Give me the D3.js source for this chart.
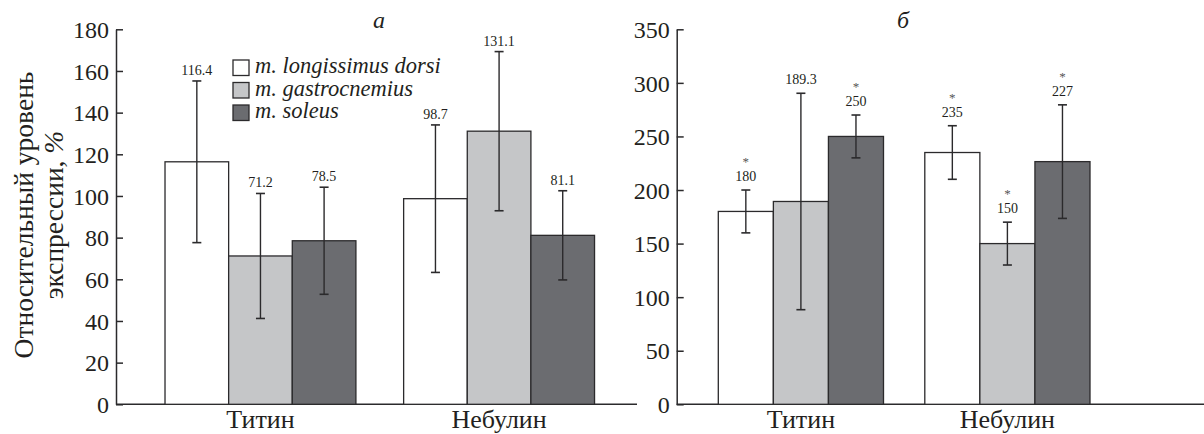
<!DOCTYPE html>
<html><head><meta charset="utf-8">
<script src="https://cdn.jsdelivr.net/npm/d3@7"></script>
<style>body{margin:0;background:#fff}svg{display:block}text{font-family:"Liberation Serif","Times New Roman",serif;fill:#231f20}</style>
</head><body><svg id="c" width="1204" height="434"></svg>
<script>
const categories = ["Титин", "Небулин"];
const seriesNames = ["m. longissimus dorsi", "m. gastrocnemius", "m. soleus"];
const seriesColors = ["#ffffff", "#c5c6c8", "#6b6c70"];
// panel a
const aValues = [[116.4, 71.2, 78.5], [98.7, 131.1, 81.1]];
const aErrors = [[38.8, 30.0, 25.7], [35.4, 38.2, 21.4]];
const aLabels = [["116.4", "71.2", "78.5"], ["98.7", "131.1", "81.1"]];
const aStars = [[false, false, false], [false, false, false]];
const aTicks = [0, 20, 40, 60, 80, 100, 120, 140, 160, 180];
// panel b
const bValues = [[180, 189.3, 250], [235, 150, 226.5]];
const bErrors = [[20, 101, 20], [25, 20, 53]];
const bLabels = [["180", "189.3", "250"], ["235", "150", "227"]];
const bStars = [[true, false, true], [true, true, true]];
const bTicks = [0, 50, 100, 150, 200, 250, 300, 350];

const svg = d3.select("#c");
const ink = "#2b2a2c";
const serif = '"Liberation Serif","Times New Roman",serif';

function panel(o) {
  const g = svg.append("g");
  const y = d3.scaleLinear().domain([0, o.ymax]).range([404.3, 29.3]);
  const x = d3.scaleBand().domain(categories).range(o.xr).paddingInner(0.2).paddingOuter(0.1);
  const xs = d3.scaleBand().domain(seriesNames).range([0, x.bandwidth()]);
  g.append("line").attr("x1", o.ax).attr("x2", o.axEnd).attr("y1", y(0)).attr("y2", y(0))
    .attr("stroke", ink).attr("stroke-width", 1.5);
  categories.forEach((c, ci) => {
    seriesNames.forEach((s, si) => {
      const v = o.values[ci][si];
      g.append("rect").attr("x", x(c) + xs(s)).attr("y", y(v))
        .attr("width", xs.bandwidth()).attr("height", y(0) - y(v))
        .attr("fill", seriesColors[si]).attr("stroke", ink).attr("stroke-width", 1.3);
    });
  });
  categories.forEach((c, ci) => {
    seriesNames.forEach((s, si) => {
      const v = o.values[ci][si], e = o.errors[ci][si];
      const cx = x(c) + xs(s) + xs.bandwidth() / 2;
      const t = y(v + e), b = y(v - e);
      g.append("line").attr("x1", cx).attr("x2", cx).attr("y1", t).attr("y2", b).attr("stroke", ink).attr("stroke-width", 1.4);
      [t, b].forEach(yy => g.append("line").attr("x1", cx - 4.5).attr("x2", cx + 4.5).attr("y1", yy).attr("y2", yy).attr("stroke", ink).attr("stroke-width", 1.6));
      g.append("text").attr("x", cx).attr("y", t - o.labOff).attr("text-anchor", "middle")
        .style("font-size", "14px").text(o.labels[ci][si]);
      if (o.stars[ci][si]) {
        g.append("text").attr("x", cx).attr("y", t - o.labOff - 15).attr("text-anchor", "middle")
          .style("font-size", "13px").style("fill", "#555").text("*");
      }
    });
  });
  const ya = g.append("g").attr("transform", `translate(${o.ax},0)`)
    .call(d3.axisLeft(y).tickValues(o.ticks).tickSizeInner(-7).tickSizeOuter(0).tickPadding(7));
  ya.attr("font-family", null).attr("font-size", null);
  ya.selectAll("path").attr("stroke", ink).attr("stroke-width", 1.5);
  ya.selectAll("line").attr("stroke", ink).attr("stroke-width", 1.5);
  ya.selectAll("text").style("font-family", serif).style("font-size", "24px").attr("fill", "#231f20").attr("dy", "0.34em");
  categories.forEach(c => {
    g.append("text").attr("x", x(c) + x.bandwidth() / 2).attr("y", 428).attr("text-anchor", "middle")
      .style("font-size", "26px").text(c);
  });
  g.append("text").attr("x", o.titleX).attr("y", 28).attr("text-anchor", "middle")
    .style("font-size", "24px").style("font-style", "italic").text(o.title);
  return g;
}

panel({ymax: 180, xr: [141.15, 618.4], ax: 116, axEnd: 637, values: aValues, errors: aErrors, labels: aLabels, stars: aStars, ticks: aTicks, labOff: 6, title: "а", titleX: 379});
panel({ymax: 350, xr: [697.65, 1110.65], ax: 676.7, axEnd: 1204, values: bValues, errors: bErrors, labels: bLabels, stars: bStars, ticks: bTicks, labOff: 9, title: "б", titleX: 903});

const lg = svg.append("g");
seriesNames.forEach((s, i) => {
  const yy = 60 + i * 22.5;
  lg.append("rect").attr("x", 233).attr("y", yy).attr("width", 16).attr("height", 15.5)
    .attr("fill", seriesColors[i]).attr("stroke", ink).attr("stroke-width", 1.3);
  lg.append("text").attr("x", 255).attr("y", yy + 13).style("font-size", "22.5px").style("font-style", "italic").text(s);
});

const yl = svg.append("text").attr("transform", "translate(0,215) rotate(-90)").attr("text-anchor", "middle").style("font-size", "27.5px");
yl.append("tspan").attr("x", 0).attr("y", 33).text("Относительный уровень");
yl.append("tspan").attr("x", 0).attr("y", 63).text("экспрессии, ");
yl.append("tspan").style("font-style", "italic").text("%");
</script></body></html>
